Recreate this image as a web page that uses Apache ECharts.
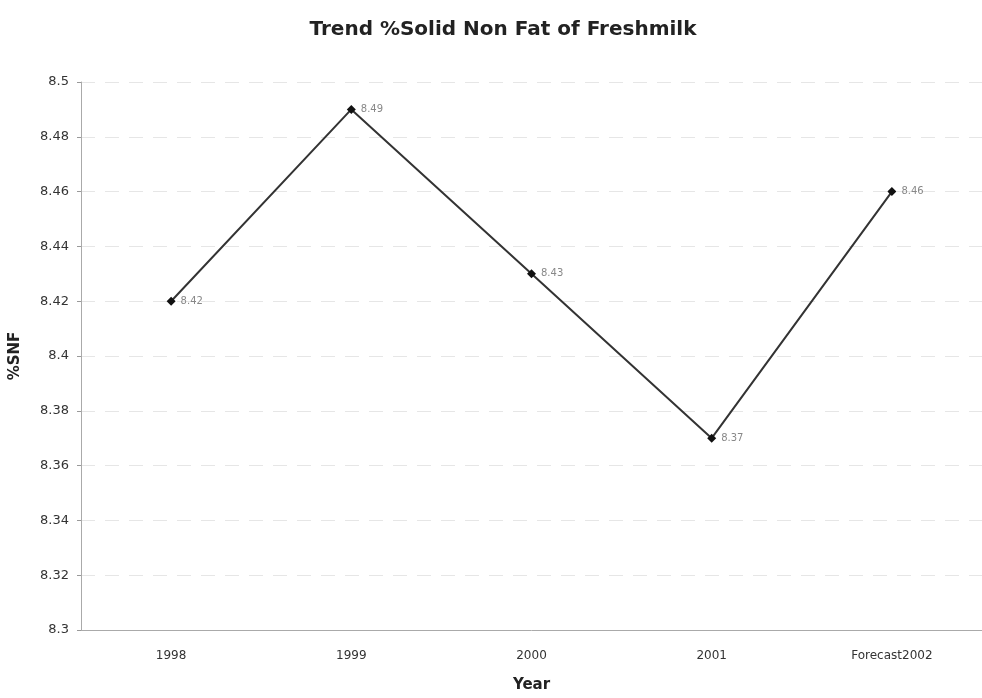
<!DOCTYPE html>
<html>
<head>
<meta charset="utf-8">
<script src="https://cdn.jsdelivr.net/npm/echarts@6/dist/echarts.min.js"></script>
<style>
html,body{margin:0;padding:0;background:#fff;}
#chart{width:982px;height:698px;}
</style>
</head>
<body>
<div id="chart"></div>
<script>
var years = ['1998', '1999', '2000', '2001', 'Forecast2002']
var snf = [8.42, 8.49, 8.43, 8.37, 8.46]
var yTicks = { min: 8.3, max: 8.5, step: 0.02 }

var chart = echarts.init(document.getElementById('chart'))
var option = {
    backgroundColor: '#fff',
    animation: false,
    title: {
        text: 'Trend %Solid Non Fat of Freshmilk',
        left: 498,
        textAlign: 'center',
        top: 15,
        textStyle: { fontFamily: 'DejaVu Sans', fontWeight: 'bold', fontSize: 20, color: '#222' }
    },
    grid: { left: 80, right: 0, top: 82, bottom: 62 },
    xAxis: {
        type: 'category',
        data: years,
        boundaryGap: true,
        name: 'Year',
        nameLocation: 'middle',
        nameGap: 48,
        nameTextStyle: { fontFamily: 'DejaVu Sans', fontWeight: 'bold', fontSize: 15, color: '#222' },
        axisLine: { lineStyle: { color: '#aaa', width: 1 } },
        axisTick: { show: false },
        axisLabel: { fontFamily: 'DejaVu Sans', fontSize: 12, color: '#333', margin: 20 }
    },
    yAxis: {
        type: 'value',
        min: yTicks.min,
        max: yTicks.max,
        interval: yTicks.step,
        name: '%SNF',
        nameLocation: 'middle',
        nameGap: 58,
        nameRotate: 90,
        nameTextStyle: { fontFamily: 'DejaVu Sans', fontWeight: 'bold', fontSize: 15, color: '#222' },
        axisLine: { show: true, lineStyle: { color: '#aaa', width: 1 } },
        axisTick: { show: true, length: 4, lineStyle: { color: '#999' } },
        axisLabel: {
            fontFamily: 'DejaVu Sans', fontSize: 13, color: '#333', margin: 12,
            formatter: function (v) { return String(parseFloat(v.toFixed(2))) }
        },
        splitLine: { show: true, lineStyle: { color: '#e6e6e6', type: [14, 10] } }
    },
    series: [{
        type: 'line',
        data: snf,
        symbol: 'diamond',
        symbolSize: 9,
        itemStyle: { color: '#111' },
        lineStyle: { color: '#333', width: 2 },
        label: {
            show: true,
            position: 'right',
            distance: 5,
            fontFamily: 'DejaVu Sans',
            fontSize: 10,
            color: '#888'
        }
    }]
}
chart.setOption(option)
</script>
</body>
</html>
